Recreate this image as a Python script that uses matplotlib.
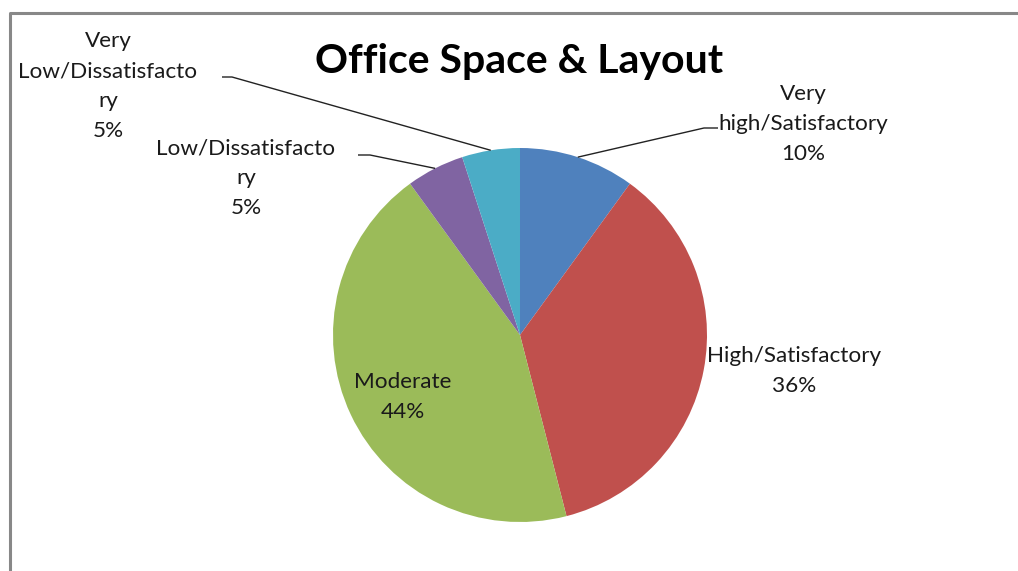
import numpy as np
import matplotlib.pyplot as plt

# data
categories = ["Very high/Satisfactory", "High/Satisfactory", "Moderate",
              "Low/Dissatisfactory", "Very Low/Dissatisfactory"]
label_text = ["Very\nhigh/Satisfactory", "High/Satisfactory", "Moderate",
              "Low/Dissatisfacto\nry", "Very\nLow/Dissatisfacto\nry"]
shares = [10, 36, 44, 5, 5]
colors = ["#4F81BD", "#C0504D", "#9BBB59", "#8064A2", "#4BACC6"]

W, H = 1018, 571
fig = plt.figure(figsize=(W / 100, H / 100), dpi=100)
ax = fig.add_axes([0, 0, 1, 1])

cx, cy, r = 520, H - 335, 187
wedges, _ = ax.pie(shares, colors=colors, startangle=90, counterclock=False,
                   radius=r, center=(cx, cy), frame=True,
                   wedgeprops=dict(linewidth=0))
ax.set_xlim(0, W)
ax.set_ylim(0, H)
ax.axis("off")

font = "Lato"
fs = 16.2

# label centres (pixels from top-left) and leader line elbows
label_pos = [(803, 124), (794, 371), (403, 397), (246, 178), (108, 86)]
elbows = [(718, 128), None, None, (358, 155), (222, 77)]
elbow_len = [-14, 0, 0, 12, 10]

for i, w in enumerate(wedges):
    x, y = label_pos[i]
    ax.text(x, H - y, f"{label_text[i]}\n{shares[i]}%", ha="center", va="center",
            fontsize=fs, family=font, color="#1a1a1a", linespacing=1.62)
    if elbows[i] is not None:
        ang = np.deg2rad((w.theta1 + w.theta2) / 2)
        ex, ey = cx + r * np.cos(ang), cy + r * np.sin(ang)
        bx, by = elbows[i]
        ax.plot([bx, bx + elbow_len[i], ex], [H - by, H - by, ey],
                color="#222222", lw=1.0, solid_capstyle="butt")

ax.text(519, H - 62, "Office Space & Layout", ha="center", va="center",
        fontsize=29.5, fontweight="bold", family=font, color="black")

# chart border
ax.plot([10, 10, W + 5], [-5, H - 13, H - 13], color="#888888", lw=2.2,
        clip_on=False)

fig.savefig("out.png", dpi=100)
